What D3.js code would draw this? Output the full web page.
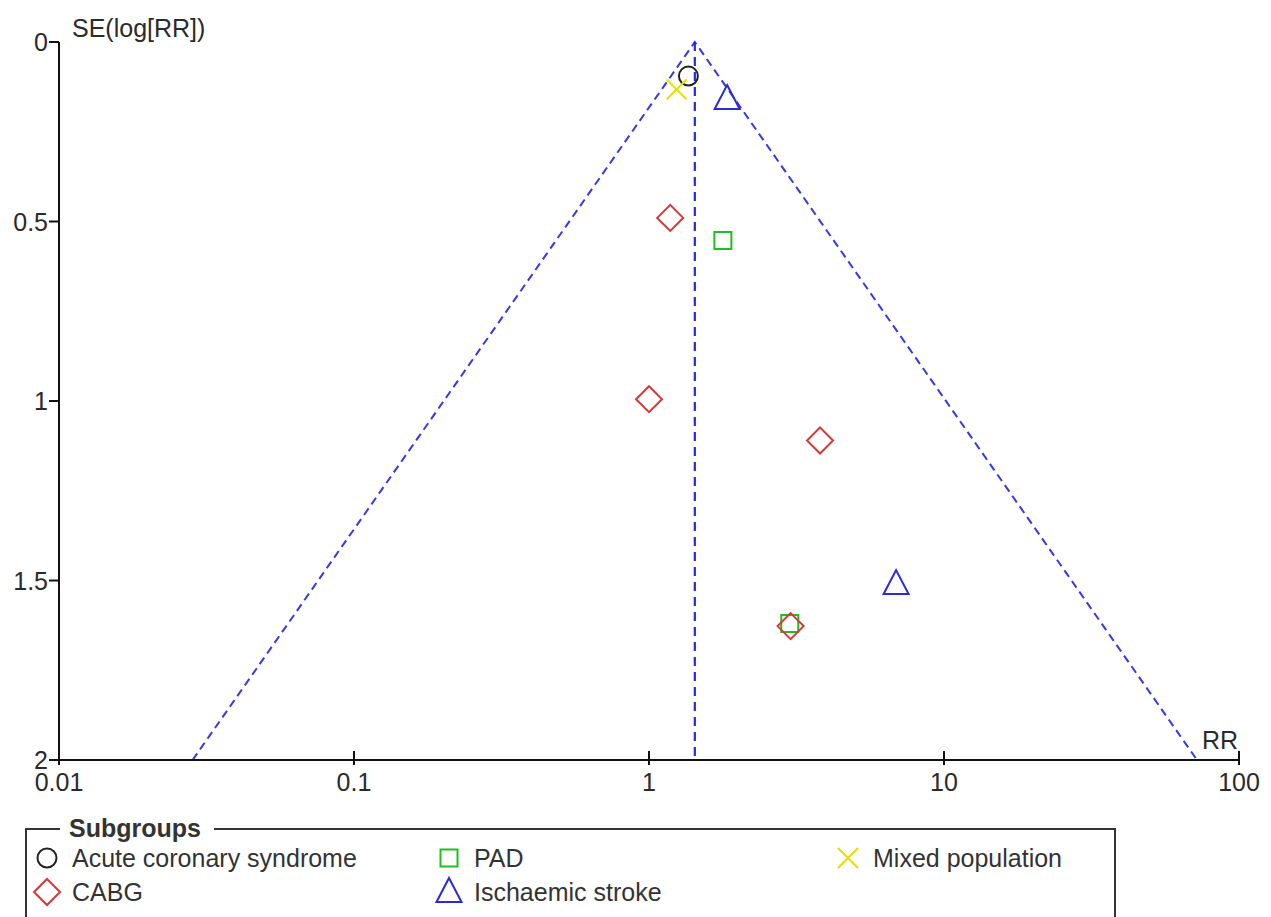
<!DOCTYPE html>
<html>
<head>
<meta charset="utf-8">
<script src="https://cdn.jsdelivr.net/npm/d3@7/dist/d3.min.js"></script>
<style>
  html, body { margin: 0; padding: 0; background: #fff; }
  svg { display: block; font-family: "Liberation Sans", Arial, sans-serif; }
</style>
</head>
<body>
<svg id="chart" width="1271" height="917"></svg>
<script>
// Funnel plot: study relative risks against their standard errors, by subgroup
const subgroups = ["Acute coronary syndrome", "PAD", "Mixed population", "CABG", "Ischaemic stroke"];
const subgroupShapes = ["circle", "square", "cross", "diamond", "triangle"];
const subgroupColors = ["#222222", "#1fbf1f", "#e6df00", "#d23a3a", "#2a2ad6"];

const studyGroup = ["Acute coronary syndrome", "Mixed population", "Ischaemic stroke", "CABG", "PAD",
                    "CABG", "CABG", "Ischaemic stroke", "PAD", "CABG"];
const studyRR    = [1.36, 1.24, 1.84, 1.18, 1.78, 1.00, 3.80, 6.88, 3.00, 3.02];
const studySE    = [0.095, 0.132, 0.159, 0.49, 0.553, 0.995, 1.11, 1.51, 1.62, 1.627];

const pooledRR = 1.43;
const xTicks = [0.01, 0.1, 1, 10, 100];
const yTicks = [0, 0.5, 1, 1.5, 2];

const svg = d3.select("#chart");
const x = d3.scaleLog().domain([0.01, 100]).range([59, 1239]);
const y = d3.scaleLinear().domain([0, 2]).range([42, 760]);

const axisColor = "#111";
const textColor = "#2a2a2a";
const fontSize = 25;

// funnel limits (95%) and pooled estimate
const seMax = 2;
const funnel = [
  [pooledRR * Math.exp(-1.96 * seMax), seMax],
  [pooledRR, 0],
  [pooledRR * Math.exp(1.96 * seMax), seMax]
];
const lineGen = d3.line().x(d => x(d[0])).y(d => y(d[1]));
svg.append("path").attr("d", lineGen(funnel))
  .attr("fill", "none").attr("stroke", "#3838e0").attr("stroke-width", 2)
  .attr("stroke-dasharray", "8,5");
svg.append("path").attr("d", lineGen([[pooledRR, 0], [pooledRR, seMax]]))
  .attr("fill", "none").attr("stroke", "#2828dd").attr("stroke-width", 2.2)
  .attr("stroke-dasharray", "9,6");

// axes
const yAxis = svg.append("g");
yAxis.append("line").attr("x1", x(0.01)).attr("x2", x(0.01)).attr("y1", y(0)).attr("y2", y(2))
  .attr("stroke", axisColor).attr("stroke-width", 2);
yTicks.forEach(t => {
  yAxis.append("line").attr("x1", x(0.01) - 10).attr("x2", x(0.01)).attr("y1", y(t)).attr("y2", y(t))
    .attr("stroke", axisColor).attr("stroke-width", 2);
  yAxis.append("text").attr("x", x(0.01) - 11).attr("y", y(t)).attr("dy", "0.36em")
    .attr("text-anchor", "end").attr("font-size", fontSize).attr("fill", textColor).text(t);
});
svg.append("text").attr("x", 72).attr("y", 37).attr("font-size", fontSize).attr("fill", textColor)
  .text("SE(log[RR])");

const xAxis = svg.append("g");
xAxis.append("line").attr("x1", x(0.01)).attr("x2", x(100)).attr("y1", y(2)).attr("y2", y(2))
  .attr("stroke", axisColor).attr("stroke-width", 2);
xTicks.forEach(t => {
  xAxis.append("line").attr("x1", x(t)).attr("x2", x(t)).attr("y1", y(2) - 9).attr("y2", y(2) + 5)
    .attr("stroke", axisColor).attr("stroke-width", 2);
  xAxis.append("text").attr("x", x(t)).attr("y", y(2) + 31)
    .attr("text-anchor", "middle").attr("font-size", fontSize).attr("fill", textColor).text(t);
});
svg.append("text").attr("x", 1238).attr("y", 749).attr("text-anchor", "end")
  .attr("font-size", fontSize).attr("fill", textColor).text("RR");

// marker shapes
function markerPath(shape) {
  switch (shape) {
    case "circle": return d3.arc()({innerRadius: 0, outerRadius: 9.5, startAngle: 0, endAngle: 2 * Math.PI});
    case "square": return "M-8.5,-8.5H8.5V8.5H-8.5Z";
    case "diamond": return "M0,-13L13,0L0,13L-13,0Z";
    case "triangle": return "M0,-14L12.5,10H-12.5Z";
    case "cross": return "M-10,-10L10,10M-10,10L10,-10";
  }
}
function drawMarker(g, group) {
  const i = subgroups.indexOf(group);
  g.append("path").attr("d", markerPath(subgroupShapes[i]))
    .attr("fill", "none").attr("stroke", subgroupColors[i]).attr("stroke-width", 2);
}

const pts = svg.append("g");
studyRR.forEach((rr, k) => {
  const g = pts.append("g").attr("transform", `translate(${x(rr)},${y(studySE[k])})`);
  drawMarker(g, studyGroup[k]);
});

// legend
const leg = svg.append("g");
const legTop = 829, legLeft = 26, legRight = 1115;
leg.append("path")
  .attr("d", `M60,${legTop}H${legLeft}V930H${legRight}V${legTop}H214`)
  .attr("fill", "none").attr("stroke", "#333").attr("stroke-width", 2);
leg.append("text").attr("x", 69).attr("y", 837).attr("font-size", fontSize).attr("font-weight", "bold")
  .attr("fill", "#333").text("Subgroups");
const legendPos = [
  [47, 858], [449, 858], [848, 858],
  [47, 892], [449, 892]
];
subgroups.forEach((s, i) => {
  const [lx, ly] = legendPos[i];
  const g = leg.append("g").attr("transform", `translate(${lx},${ly})`);
  drawMarker(g, s);
  leg.append("text").attr("x", lx + 25).attr("y", ly).attr("dy", "0.36em")
    .attr("font-size", fontSize).attr("fill", "#333").text(s);
});
</script>
</body>
</html>
